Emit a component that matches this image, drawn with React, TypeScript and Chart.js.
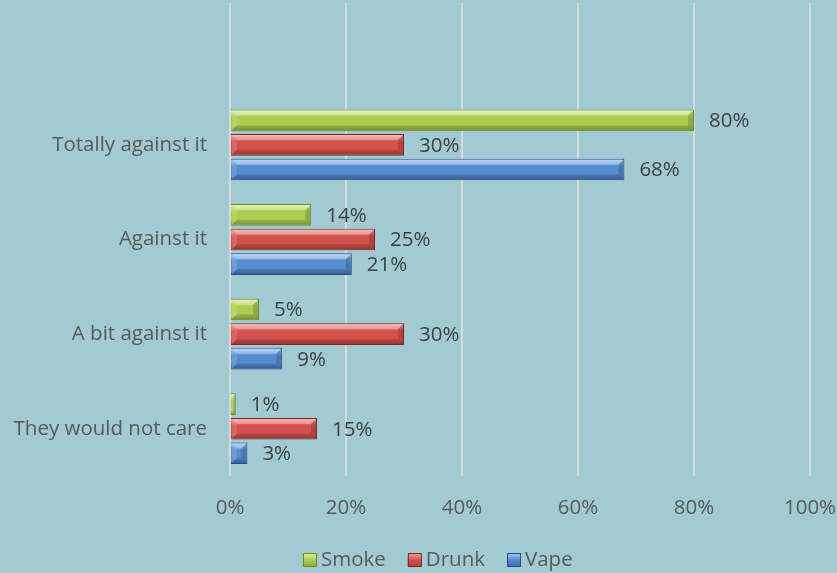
import React, { useEffect, useRef } from "react";
import { Chart, registerables } from "chart.js";

Chart.register(...registerables);

const categories = ["", "Totally against it", "Against it", "A bit against it", "They would not care"];
const seriesNames = ["Smoke", "Drunk", "Vape"];
const smoke = [null, 80, 14, 5, 1];
const drunk = [null, 30, 25, 30, 15];
const vape = [null, 68, 21, 9, 3];
const xTicks = [0, 20, 40, 60, 80, 100];

const FONT = "'Open Sans', 'Noto Sans', sans-serif";
const FS = 20.5;
const TEXT = "#595959";

const palettes = [
  { light: "#E0F0A4", base: "#ABCD52", dark: "#86A53A", border: "#6E8A2C" },
  { light: "#F6A6A3", base: "#D4524E", dark: "#B03E3B", border: "#7E2624" },
  { light: "#A6CAF3", base: "#578CD2", dark: "#3B69AA", border: "#284B82" },
];

const bevelPlugin = {
  id: "bevel",
  beforeDatasetsDraw(chart: any) {
    const ctx = chart.ctx;
    chart.data.datasets.forEach((ds: any, di: number) => {
      const meta = chart.getDatasetMeta(di);
      const p = palettes[di];
      meta.data.forEach((el: any) => {
        if (!el || el.height == null || isNaN(el.y)) return;
        const top = el.y - el.height / 2;
        const bot = el.y + el.height / 2;
        const g = ctx.createLinearGradient(0, top, 0, bot);
        g.addColorStop(0, p.light);
        g.addColorStop(0.35, p.base);
        g.addColorStop(0.75, p.base);
        g.addColorStop(1, p.dark);
        el.options = Object.assign({}, el.options, { backgroundColor: g });
      });
    });
  },
  afterDatasetsDraw(chart: any) {
    const ctx = chart.ctx;
    ctx.save();
    chart.data.datasets.forEach((ds: any, di: number) => {
      const meta = chart.getDatasetMeta(di);
      meta.data.forEach((el: any, i: number) => {
        if (ds.data[i] == null || !el || isNaN(el.y)) return;
        const l = Math.min(el.base, el.x) + 1;
        const r = Math.max(el.base, el.x) - 1;
        const t = el.y - el.height / 2 + 1;
        const b = el.y + el.height / 2 - 1;
        const w = r - l;
        const bv = Math.max(0, Math.min(5, w / 2, (b - t) / 2));
        const poly = (pts: number[][], fill: string) => {
          ctx.beginPath();
          ctx.moveTo(pts[0][0], pts[0][1]);
          for (let k = 1; k < pts.length; k++) ctx.lineTo(pts[k][0], pts[k][1]);
          ctx.closePath();
          ctx.fillStyle = fill;
          ctx.fill();
        };
        poly([[l, t], [r, t], [r - bv, t + bv], [l + bv, t + bv]], "rgba(255,255,255,0.30)");
        poly([[l, b], [r, b], [r - bv, b - bv], [l + bv, b - bv]], "rgba(0,0,0,0.14)");
        poly([[r, t], [r, b], [r - bv, b - bv], [r - bv, t + bv]], "rgba(0,0,0,0.16)");
        poly([[l, t], [l, b], [l + bv, b - bv], [l + bv, t + bv]], "rgba(255,255,255,0.12)");
      });
    });
    ctx.restore();
  },
};

const labelPlugin = {
  id: "valueLabels",
  afterDatasetsDraw(chart: any) {
    const ctx = chart.ctx;
    ctx.save();
    ctx.font = `${FS}px ${FONT}`;
    ctx.fillStyle = "#404040";
    ctx.textAlign = "left";
    ctx.textBaseline = "middle";
    chart.data.datasets.forEach((ds: any, di: number) => {
      const meta = chart.getDatasetMeta(di);
      meta.data.forEach((el: any, i: number) => {
        const v = ds.data[i];
        if (v == null) return;
        ctx.fillText(`${v}%`, el.x + 15, el.y + 1);
      });
    });
    ctx.restore();
  },
};

const legendPlugin = {
  id: "customLegend",
  afterDraw(chart: any) {
    const ctx = chart.ctx;
    ctx.save();
    ctx.font = `${FS}px ${FONT}`;
    ctx.textBaseline = "middle";
    ctx.textAlign = "left";
    const y = 560;
    let x = 303;
    chart.data.datasets.forEach((ds: any, i: number) => {
      const p = palettes[i];
      const g = ctx.createLinearGradient(0, y - 7, 0, y + 7);
      g.addColorStop(0, p.light);
      g.addColorStop(0.5, p.base);
      g.addColorStop(1, p.dark);
      ctx.fillStyle = g;
      ctx.fillRect(x, y - 7, 14, 14);
      ctx.strokeStyle = p.border;
      ctx.lineWidth = 1;
      ctx.strokeRect(x + 0.5, y - 6.5, 13, 13);
      ctx.fillStyle = TEXT;
      ctx.fillText(ds.label, x + 18, y);
      x += 18 + ctx.measureText(ds.label).width + 22;
    });
    ctx.restore();
  },
};

export default function App() {
  const ref = useRef<HTMLCanvasElement>(null);
  useEffect(() => {
    document.body.style.margin = "0";
    const mk = (label: string, data: any[], i: number) => ({
      label,
      data,
      backgroundColor: palettes[i].base,
      borderColor: palettes[i].border,
      borderWidth: 1,
      barPercentage: 0.88,
      categoryPercentage: 0.78,
    });
    const chart = new Chart(ref.current!, {
      type: "bar",
      data: {
        labels: categories,
        datasets: [mk(seriesNames[0], smoke, 0), mk(seriesNames[1], drunk, 1), mk(seriesNames[2], vape, 2)],
      },
      options: {
        indexAxis: "y",
        animation: false,
        responsive: false,
        maintainAspectRatio: false,
        layout: { padding: { top: 3, right: 27, left: 0, bottom: 37 } },
        scales: {
          x: {
            min: 0,
            max: 100,
            afterBuildTicks(scale: any) {
              scale.ticks = xTicks.map((v) => ({ value: v }));
            },
            afterFit(scale: any) {
              scale.height = 60;
              scale.paddingLeft = 0;
              scale.paddingRight = 0;
            },
            ticks: {
              callback: (v: any) => `${v}%`,
              color: TEXT,
              font: { family: FONT, size: FS },
              padding: 20,
            },
            grid: { color: "#D9D9D9", lineWidth: 2, drawTicks: false },
            border: { display: false },
          },
          y: {
            afterFit(scale: any) {
              scale.width = 230;
              scale.paddingTop = 0;
              scale.paddingBottom = 0;
            },
            ticks: {
              color: TEXT,
              font: { family: FONT, size: FS },
              padding: 23,
            },
            grid: { display: false, drawTicks: false },
            border: { display: false },
          },
        },
        plugins: {
          legend: { display: false },
          tooltip: { enabled: false },
        },
      },
      plugins: [bevelPlugin, labelPlugin, legendPlugin],
    } as any);
    return () => chart.destroy();
  }, []);
  return (
    <div style={{ width: 837, height: 573, background: "#A1CAD2" }}>
      <canvas ref={ref} width={837} height={573} />
    </div>
  );
}
